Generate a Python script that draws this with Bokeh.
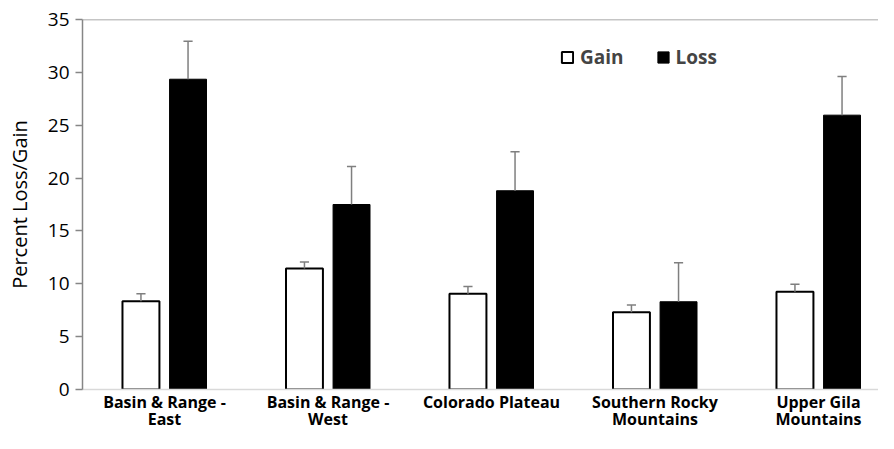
from bokeh.plotting import figure
from bokeh.models import ColumnDataSource, FixedTicker, Span, Legend, LegendItem, Range1d
from bokeh.embed import file_html
from bokeh.resources import INLINE

categories = ["Basin & Range -\nEast", "Basin & Range -\nWest", "Colorado Plateau",
              "Southern Rocky\nMountains", "Upper Gila\nMountains"]
gain = [8.35, 11.45, 9.05, 7.3, 9.25]
gain_err = [0.7, 0.6, 0.7, 0.7, 0.7]
loss = [29.35, 17.5, 18.8, 8.3, 25.95]
loss_err = [3.6, 3.6, 3.7, 3.7, 3.65]
y_ticks = [0, 5, 10, 15, 20, 25, 30, 35]

FONT = "Open Sans"
offset = 0.144
bw = 0.226
cap = 0.028

idx = list(range(len(categories)))
xg = [i - offset for i in idx]
xl = [i + offset for i in idx]

src_g = ColumnDataSource(dict(x=xg, top=gain, etop=[g + e for g, e in zip(gain, gain_err)],
                              c0=[x - cap for x in xg], c1=[x + cap for x in xg]))
src_l = ColumnDataSource(dict(x=xl, top=loss, etop=[v + e for v, e in zip(loss, loss_err)],
                              c0=[x - cap for x in xl], c1=[x + cap for x in xl]))

p = figure(width=878, height=433, output_backend="svg", toolbar_location=None,
           x_range=Range1d(-0.5015, 4.367), y_range=Range1d(0, 35),
           min_border_left=82, min_border_right=0, min_border_top=19, min_border_bottom=36)
p.outline_line_color = None
p.grid.visible = False
p.background_fill_color = "white"

rg = p.vbar(x="x", top="top", width=bw, bottom=0, source=src_g, fill_color="white",
            line_color="black", line_width=2)
rl = p.vbar(x="x", top="top", width=bw, bottom=0, source=src_l, fill_color="black",
            line_color="black", line_width=1)

for s in (src_g, src_l):
    p.segment(x0="x", y0="top", x1="x", y1="etop", source=s, line_color="#7f7f7f", line_width=1.5)
    p.segment(x0="c0", y0="etop", x1="c1", y1="etop", source=s, line_color="#7f7f7f", line_width=1.5)

p.add_layout(Span(location=35, dimension="width", line_color="#8c8c8c", line_width=1.5))

# y axis
ya = p.yaxis[0]
ya.ticker = FixedTicker(ticks=y_ticks)
ya.axis_line_color = "#868686"
ya.axis_line_width = 1.5
ya.major_tick_line_color = "#868686"
ya.major_tick_line_width = 1.5
ya.major_tick_out = 7
ya.major_tick_in = 0
ya.minor_tick_line_color = None
ya.major_label_standoff = 6
ya.major_label_text_font = FONT
ya.major_label_text_font_size = "19px"
ya.major_label_text_color = "black"
ya.axis_label = "Percent Loss/Gain"
ya.axis_label_text_font = FONT
ya.axis_label_text_font_size = "20px"
ya.axis_label_text_font_style = "normal"
ya.axis_label_text_color = "black"
ya.axis_label_standoff = 12

# x axis
xa = p.xaxis[0]
xa.ticker = FixedTicker(ticks=idx)
xa.major_label_overrides = {i: c for i, c in zip(idx, categories)}
xa.axis_line_color = "#d9d9d9"
xa.axis_line_width = 1.5
xa.major_tick_line_color = None
xa.minor_tick_line_color = None
xa.major_tick_out = 0
xa.major_tick_in = 0
xa.major_label_standoff = 1
xa.major_label_text_font = FONT
xa.major_label_text_font_size = "16px"
xa.major_label_text_font_style = "bold"
xa.major_label_text_color = "black"
xa.major_label_text_line_height = 0.8

legend = Legend(items=[LegendItem(label="Gain", renderers=[rg]),
                       LegendItem(label="Loss", renderers=[rl])],
                location=(478, 319), orientation="horizontal",
                glyph_width=14, glyph_height=14, label_standoff=6, spacing=32,
                padding=0, margin=0, border_line_alpha=0, background_fill_alpha=0,
                label_text_font=FONT, label_text_font_size="19px",
                label_text_font_style="bold", label_height=14)
p.add_layout(legend)

open("out.html", "w").write(file_html(p, INLINE))
